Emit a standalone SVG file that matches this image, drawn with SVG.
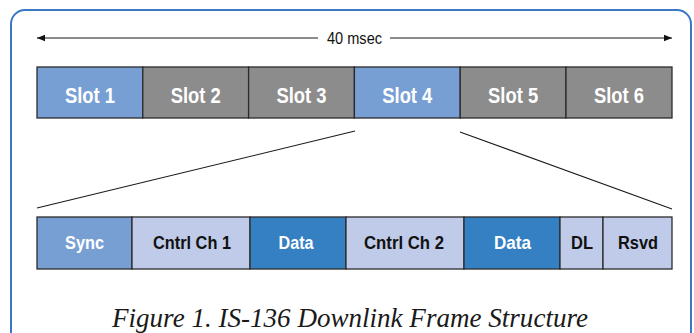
<svg xmlns="http://www.w3.org/2000/svg" width="694" height="333" viewBox="0 0 694 333">
<defs>
<style>
.frame{fill:none;stroke:#3b78c4;stroke-width:2}
.cell{stroke:#2b2b2b;stroke-width:1.3}
.slotB{fill:#789fd3}
.slotG{fill:#8c8c8c}
.light{fill:#bfcbe8}
.dark{fill:#3480c3}
.wt{font-family:"Liberation Sans",Arial,sans-serif;font-weight:bold;fill:#ffffff;text-anchor:middle}
.bt{font-family:"Liberation Sans",Arial,sans-serif;font-weight:bold;fill:#111111;text-anchor:middle}
.conn{stroke:#1a1a1a;stroke-width:1.1;fill:none}
</style>
<marker id="ah" viewBox="0 0 10 10" refX="10" refY="5" markerWidth="8" markerHeight="8" markerUnits="userSpaceOnUse" orient="auto-start-reverse">
<path d="M0,1 L10,5 L0,9 Z" fill="#111"/>
</marker>
</defs>
<rect x="0" y="0" width="694" height="333" fill="#ffffff"/>
<rect class="frame" x="11" y="10" width="680" height="340" rx="14"/>

<g id="duration">
<line class="conn" x1="37" y1="38" x2="318" y2="38" marker-start="url(#ah)"/>
<line class="conn" x1="390" y1="38" x2="672" y2="38" marker-end="url(#ah)"/>
<text x="354.5" y="44" font-family="'Liberation Sans',Arial,sans-serif" font-size="16" fill="#111" text-anchor="middle" textLength="55" lengthAdjust="spacingAndGlyphs">40 msec</text>
</g>

<g id="slot1"><rect class="cell slotB" x="37" y="67" width="105.8" height="51"/><text class="wt" x="90" y="103" font-size="22" textLength="50" lengthAdjust="spacingAndGlyphs">Slot 1</text></g>
<g id="slot2"><rect class="cell slotG" x="142.8" y="67" width="105.8" height="51"/><text class="wt" x="195.7" y="103" font-size="22" textLength="50" lengthAdjust="spacingAndGlyphs">Slot 2</text></g>
<g id="slot3"><rect class="cell slotG" x="248.6" y="67" width="105.8" height="51"/><text class="wt" x="301.5" y="103" font-size="22" textLength="50" lengthAdjust="spacingAndGlyphs">Slot 3</text></g>
<g id="slot4"><rect class="cell slotB" x="354.4" y="67" width="105.8" height="51"/><text class="wt" x="407.3" y="103" font-size="22" textLength="50" lengthAdjust="spacingAndGlyphs">Slot 4</text></g>
<g id="slot5"><rect class="cell slotG" x="460.2" y="67" width="105.8" height="51"/><text class="wt" x="513.1" y="103" font-size="22" textLength="50" lengthAdjust="spacingAndGlyphs">Slot 5</text></g>
<g id="slot6"><rect class="cell slotG" x="566" y="67" width="106" height="51"/><text class="wt" x="619" y="103" font-size="22" textLength="50" lengthAdjust="spacingAndGlyphs">Slot 6</text></g>

<g id="connectors">
<line class="conn" x1="355" y1="131" x2="37" y2="208"/>
<line class="conn" x1="460" y1="132" x2="672" y2="209"/>
</g>

<g id="sync"><rect class="cell slotB" x="37" y="217" width="95" height="52"/><text class="wt" x="84.5" y="249" font-size="19" textLength="39" lengthAdjust="spacingAndGlyphs">Sync</text></g>
<g id="cntrl1"><rect class="cell light" x="132" y="217" width="118" height="52"/><text class="bt" x="192" y="249" font-size="19" textLength="78" lengthAdjust="spacingAndGlyphs">Cntrl Ch 1</text></g>
<g id="data1"><rect class="cell dark" x="250" y="217" width="96" height="52"/><text class="wt" x="296" y="249" font-size="19" textLength="35" lengthAdjust="spacingAndGlyphs">Data</text></g>
<g id="cntrl2"><rect class="cell light" x="346" y="217" width="118" height="52"/><text class="bt" x="404" y="249" font-size="19" textLength="80" lengthAdjust="spacingAndGlyphs">Cntrl Ch 2</text></g>
<g id="data2"><rect class="cell dark" x="464" y="217" width="96" height="52"/><text class="wt" x="512.5" y="249" font-size="19" textLength="37" lengthAdjust="spacingAndGlyphs">Data</text></g>
<g id="dl"><rect class="cell light" x="560" y="217" width="43" height="52"/><text class="bt" x="582" y="249" font-size="19" textLength="22" lengthAdjust="spacingAndGlyphs">DL</text></g>
<g id="rsvd"><rect class="cell light" x="603" y="217" width="69" height="52"/><text class="bt" x="638" y="249" font-size="19" textLength="40" lengthAdjust="spacingAndGlyphs">Rsvd</text></g>

<text x="350" y="327" font-family="'Liberation Serif','Times New Roman',serif" font-style="italic" font-size="27" fill="#1a1a1a" text-anchor="middle" textLength="476" lengthAdjust="spacingAndGlyphs">Figure 1. IS-136 Downlink Frame Structure</text>
</svg>
